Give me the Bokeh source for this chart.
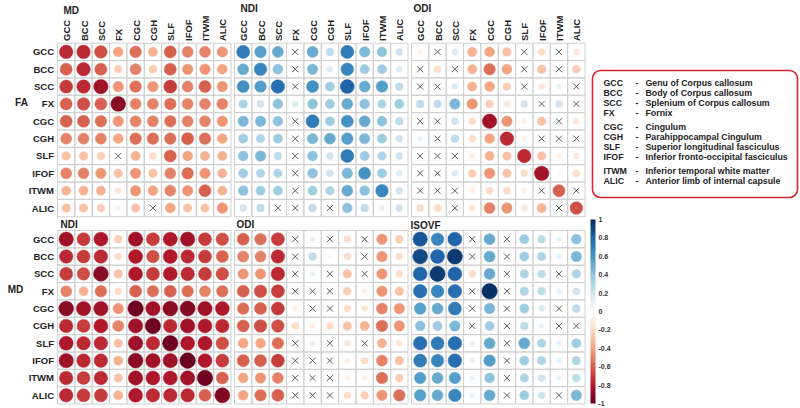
import numpy as np
from bokeh.plotting import figure
from bokeh.models import (Range1d, LinearColorMapper, ColorBar, FixedTicker,
                          BoxAnnotation, ColumnDataSource, CustomJSTickFormatter)
from bokeh.core.properties import value
from bokeh.embed import file_html
from bokeh.resources import INLINE

# ---------------- data ----------------
tracts = ["GCC", "BCC", "SCC", "FX", "CGC", "CGH", "SLF", "IFOF", "ITWM", "ALIC"]
full_names = ["Genu of Corpus callosum", "Body of Corpus callosum",
              "Splenium of Corpus callosum", "Fornix", "Cingulum",
              "Parahippocampal Cingulum", "Superior longitudinal fasciculus",
              "Inferior fronto-occipital fasciculus",
              "Inferior temporal white matter", "Anterior limb of internal capsule"]
X = None  # non-significant correlation (drawn as a cross)

fa_md = [
    [-0.75, -0.75, -0.65, -0.40, -0.55, -0.35, -0.60, -0.50, -0.50, -0.45],
    [-0.60, -0.75, -0.60, -0.25, -0.50, -0.25, -0.60, -0.45, -0.45, -0.40],
    [-0.70, -0.75, -0.85, -0.45, -0.55, -0.45, -0.70, -0.50, -0.60, -0.45],
    [-0.60, -0.65, -0.60, -0.90, -0.50, -0.50, -0.55, -0.50, -0.50, -0.50],
    [-0.60, -0.60, -0.55, -0.45, -0.50, -0.50, -0.55, -0.50, -0.50, -0.45],
    [-0.50, -0.50, -0.50, -0.40, -0.55, -0.55, -0.55, -0.60, -0.55, -0.40],
    [-0.30, -0.30, -0.25, X, -0.35, -0.20, -0.60, -0.40, -0.35, -0.35],
    [-0.50, -0.50, -0.45, -0.30, -0.45, -0.30, -0.50, -0.55, -0.45, -0.35],
    [-0.35, -0.35, -0.35, -0.15, -0.45, -0.40, -0.50, -0.45, -0.60, -0.35],
    [-0.30, -0.30, -0.25, -0.10, -0.30, X, -0.40, -0.30, -0.30, -0.45],
]
fa_ndi = [
    [0.70, 0.55, 0.50, X, 0.50, 0.25, 0.70, 0.45, 0.40, 0.20],
    [0.50, 0.65, 0.40, X, 0.45, 0.15, 0.65, 0.35, 0.35, 0.15],
    [0.60, 0.55, 0.75, X, 0.60, 0.35, 0.80, 0.50, 0.55, 0.25],
    [0.30, 0.20, 0.40, 0.15, 0.40, 0.35, 0.50, 0.40, 0.30, 0.35],
    [0.45, 0.45, 0.40, X, 0.70, 0.35, 0.60, 0.50, 0.40, 0.25],
    [0.35, 0.30, 0.35, X, 0.45, 0.50, 0.55, 0.45, 0.35, 0.20],
    [0.40, 0.45, 0.25, X, 0.40, 0.20, 0.70, 0.35, 0.30, 0.20],
    [0.35, 0.30, 0.30, X, 0.40, 0.20, 0.45, 0.60, 0.35, 0.15],
    [0.40, 0.35, 0.35, X, 0.35, 0.30, 0.50, 0.40, 0.65, 0.20],
    [0.20, 0.25, X, X, 0.25, X, 0.40, 0.25, 0.10, 0.20],
]
fa_odi = [
    [-0.10, X, 0.15, -0.35, -0.40, -0.30, X, -0.20, X, -0.15],
    [X, -0.20, X, -0.35, -0.55, -0.40, X, -0.30, X, -0.25],
    [X, X, 0.15, -0.35, -0.40, -0.25, X, -0.15, 0.10, X],
    [0.25, 0.25, 0.45, -0.45, -0.25, -0.15, 0.20, X, 0.20, X],
    [X, X, 0.20, -0.20, -0.85, -0.45, -0.10, -0.30, X, -0.15],
    [0.10, X, 0.25, -0.20, -0.40, -0.75, -0.10, X, X, X],
    [X, X, X, -0.10, -0.35, -0.30, -0.75, -0.30, -0.10, -0.15],
    [X, X, 0.15, -0.25, -0.45, -0.30, -0.20, -0.85, 0.05, -0.20],
    [X, X, X, -0.10, -0.20, -0.20, -0.10, X, -0.60, X],
    [-0.20, -0.20, X, -0.15, -0.50, -0.45, -0.15, -0.35, X, -0.65],
]
md_ndi = [
    [-0.85, -0.70, -0.80, -0.25, -0.85, -0.70, -0.80, -0.85, -0.70, -0.65],
    [-0.75, -0.70, -0.75, -0.20, -0.80, -0.65, -0.80, -0.75, -0.70, -0.60],
    [-0.70, -0.65, -0.90, -0.30, -0.80, -0.70, -0.80, -0.75, -0.70, -0.65],
    [-0.50, -0.35, -0.55, -0.20, -0.60, -0.55, -0.60, -0.55, -0.50, -0.55],
    [-0.90, -0.85, -0.85, -0.45, -0.98, -0.85, -0.90, -0.92, -0.85, -0.80],
    [-0.75, -0.70, -0.80, -0.50, -0.85, -0.98, -0.75, -0.85, -0.80, -0.75],
    [-0.80, -0.75, -0.75, -0.30, -0.85, -0.75, -0.98, -0.80, -0.80, -0.65],
    [-0.85, -0.75, -0.75, -0.35, -0.90, -0.85, -0.85, -0.99, -0.80, -0.70],
    [-0.75, -0.70, -0.75, -0.30, -0.85, -0.80, -0.80, -0.85, -0.98, -0.60],
    [-0.75, -0.70, -0.70, -0.35, -0.80, -0.75, -0.75, -0.75, -0.60, -0.92],
]
md_odi = [
    [-0.60, -0.55, -0.70, X, 0.10, X, -0.20, X, -0.45, -0.25],
    [-0.50, -0.50, -0.75, X, 0.25, 0.05, -0.20, X, -0.45, -0.20],
    [-0.45, -0.45, -0.75, X, 0.10, X, -0.30, X, -0.45, -0.20],
    [-0.60, -0.65, -0.70, X, X, X, -0.25, -0.10, -0.45, -0.30],
    [-0.55, -0.60, -0.70, -0.10, X, X, -0.20, -0.15, -0.50, -0.45],
    [-0.60, -0.65, -0.65, -0.20, -0.10, -0.20, -0.30, -0.35, -0.55, -0.45],
    [-0.40, -0.40, -0.55, X, 0.10, X, -0.15, X, -0.35, -0.15],
    [-0.60, -0.60, -0.70, X, X, X, -0.10, -0.20, -0.50, -0.30],
    [-0.40, -0.45, -0.50, X, X, X, -0.10, -0.10, -0.55, -0.25],
    [-0.40, -0.55, -0.60, X, X, X, -0.20, -0.25, -0.45, -0.55],
]
md_isovf = [
    [0.85, 0.65, 0.80, X, 0.50, X, 0.35, 0.25, 0.10, 0.40],
    [0.90, 0.80, 0.95, X, 0.50, X, 0.35, 0.30, 0.10, 0.45],
    [0.80, 0.95, 0.80, -0.20, 0.50, X, 0.30, 0.25, X, 0.30],
    [0.75, 0.65, 0.75, X, 0.98, X, 0.30, 0.25, 0.10, 0.20],
    [0.55, 0.50, 0.70, X, 0.45, X, 0.35, 0.15, X, 0.25],
    [0.40, 0.35, 0.45, X, 0.35, X, 0.25, 0.10, X, X],
    [0.75, 0.70, 0.75, 0.10, 0.50, X, 0.50, 0.30, 0.10, 0.35],
    [0.70, 0.65, 0.75, 0.10, 0.55, X, 0.35, 0.30, 0.10, 0.30],
    [0.55, 0.50, 0.55, 0.10, 0.40, X, 0.30, 0.20, 0.10, 0.25],
    [0.55, 0.50, 0.65, 0.10, 0.50, X, 0.35, 0.20, X, 0.45],
]

row_groups = ["FA", "MD"]
col_titles = [["MD", "NDI", "ODI"], ["NDI", "ODI", "ISOVF"]]
matrices = [[fa_md, fa_ndi, fa_odi], [md_ndi, md_odi, md_isovf]]
cbar_ticks = [-1, -0.8, -0.6, -0.4, -0.2, 0, 0.2, 0.4, 0.6, 0.8, 1]

# ---------------- layout (screen pixels of the picture) ----------------
W, H = 800, 408
CELL = 17.35
BLOCK_X = [57.0, 234.0, 411.0]
BLOCK_TOP = [42.7, 230.0]
FONT = value("Liberation Sans")


def Y(py):
    # picture pixel (top-down) -> data y (bottom-up)
    return H - py


# corrplot RdBu palette
anchors = ["#67001F", "#B2182B", "#D6604D", "#F4A582", "#FDDBC7", "#FFFFFF",
           "#D1E5F0", "#92C5DE", "#4393C3", "#2166AC", "#053061"]
rgb = np.array([[int(a[i:i + 2], 16) for i in (1, 3, 5)] for a in anchors], float)
pos = np.linspace(0, 1, len(anchors))
palette = []
for t in np.linspace(0, 1, 200):
    c = [np.interp(t, pos, rgb[:, k]) for k in range(3)]
    palette.append("#%02x%02x%02x" % tuple(int(round(v)) for v in c))
mapper = LinearColorMapper(palette=palette, low=-1, high=1)

p = figure(width=W, height=H, output_backend="svg", toolbar_location=None,
           x_range=Range1d(0, W), y_range=Range1d(0, H),
           x_axis_type=None, y_axis_type=None, min_border=0,
           outline_line_color=None)
p.grid.visible = False
p.background_fill_color = "white"

# legend box (behind glyphs)
box = BoxAnnotation(left=592, right=797, top=Y(70), bottom=Y(197),
                    fill_color="white", fill_alpha=1, line_color="#d8262e",
                    line_alpha=1, line_width=1.6, border_radius=8,
                    level="underlay")
p.add_layout(box)

gx, gy, cx, cy, cr, cv, xx, xy = [], [], [], [], [], [], [], []
for bi in range(2):
    for bj in range(3):
        m = matrices[bi][bj]
        for i in range(10):
            for j in range(10):
                x = BLOCK_X[bj] + (j + 0.5) * CELL
                y = Y(BLOCK_TOP[bi] + (i + 0.5) * CELL)
                gx.append(x); gy.append(y)
                v = m[i][j]
                if v is None:
                    xx.append(x); xy.append(y)
                else:
                    cx.append(x); cy.append(y); cv.append(v)
                    cr.append(0.9 * np.sqrt(abs(v)) / 2 * CELL)

p.rect(x=gx, y=gy, width=CELL, height=CELL, fill_color=None,
       line_color="#d0d0d0", line_width=1)
src = ColumnDataSource(dict(x=cx, y=cy, r=cr, v=cv))
p.circle(x="x", y="y", radius="r", source=src,
         fill_color={"field": "v", "transform": mapper},
         line_color={"field": "v", "transform": mapper}, line_width=0.5)
p.scatter(x=xx, y=xy, marker="x", size=8.5, line_color="#4a4a4a", line_width=0.9)

# row labels
for bi in range(2):
    p.text(x=[53.5] * 10, y=[Y(BLOCK_TOP[bi] + (i + 0.5) * CELL) for i in range(10)],
           text=tracts, text_align="right", text_baseline="middle",
           text_font=FONT, text_font_style="bold", text_font_size="9.5px",
           text_color="#222222")

# column headers (top blocks only)
for bj in range(3):
    p.text(x=[BLOCK_X[bj] + (j + 0.5) * CELL + 0.5 for j in range(10)],
           y=[Y(40.5)] * 10, text=tracts, angle=np.pi / 2,
           text_align="left", text_baseline="middle",
           text_font=FONT, text_font_style="bold", text_font_size="9.5px",
           text_color="#222222")

# block titles
title_pos = [[(63, 10), (240, 8), (413, 8)], [(60, 224), (236, 224), (410, 225)]]
for bi in range(2):
    for bj in range(3):
        tx, ty = title_pos[bi][bj]
        p.text(x=[tx], y=[Y(ty)], text=[col_titles[bi][bj]], text_align="left",
               text_baseline="middle", text_font=FONT, text_font_style="bold",
               text_font_size="10px", text_color="#222222")

# row group labels
for (tx, ty), lab in zip([(21, 102), (15, 289)], row_groups):
    p.text(x=[tx], y=[Y(ty)], text=[lab], text_align="center",
           text_baseline="middle", text_font=FONT, text_font_style="bold",
           text_font_size="10px", text_color="#222222")

# legend texts
ly = [Y(82 + 10 * i + 4 * (i >= 4) + 4 * (i >= 8)) for i in range(10)]
kw = dict(text_baseline="middle", text_align="left", text_font=FONT,
          text_font_style="bold", text_font_size="8.8px", text_color="#222222")
p.text(x=[603] * 10, y=ly, text=tracts, **kw)
p.text(x=[635] * 10, y=ly, text=["-"] * 10, **kw)
p.text(x=[645] * 10, y=ly, text=full_names, **kw)

# color bar
cb = ColorBar(color_mapper=mapper, location=(590, 5), width=5, height=184,
              padding=0, ticker=FixedTicker(ticks=cbar_ticks),
              formatter=CustomJSTickFormatter(code="return String(Math.round(tick*10)/10)"),
              major_label_text_font_size="7px", major_label_text_font="Liberation Sans",
              major_label_text_font_style="bold", major_label_text_color="#333333",
              major_tick_line_color=None, minor_tick_line_color=None,
              bar_line_color=None, border_line_color=None,
              background_fill_alpha=0, label_standoff=3)
p.add_layout(cb, "center")

open("out.html", "w").write(file_html(p, INLINE))
